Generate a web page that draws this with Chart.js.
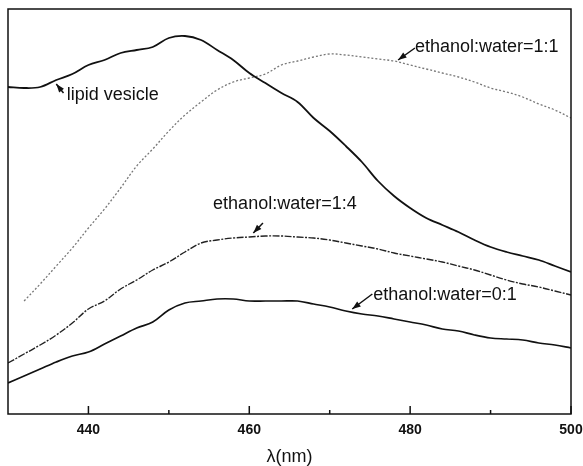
<!DOCTYPE html>
<html>
<head>
<meta charset="utf-8">
<script src="https://cdn.jsdelivr.net/npm/chart.js@4.4.1/dist/chart.umd.min.js"></script>
<style>
  body { margin: 0; background: #fff; }
  #wrap { width: 583px; height: 466px; }
</style>
</head>
<body>
<div id="wrap"><canvas id="spectra"></canvas></div>
<script>
// wavelength (nm) and emission intensity (arb. units)
const wavelengths = [430, 432, 434, 436, 438, 440, 442, 444, 446, 448, 450, 452, 454, 456, 458, 460, 462, 464,
  466, 468, 470, 472, 474, 476, 478, 480, 482, 484, 486, 488, 490, 492, 494, 496, 498, 500];
const lipidVesicle = [327, 326, 327, 334, 340, 349, 354, 361, 364, 367, 376, 378, 374, 364, 354, 341, 331, 321,
  312, 296, 283, 268, 252, 233, 218, 206, 196, 189, 182, 174, 167, 162, 158, 154, 148, 142];
const ratio1to1 = [null, 113, 130, 148, 166, 186, 205, 226, 248, 265, 283, 299, 312, 324, 332, 336, 340, 349,
  353, 357, 360, 359, 357, 355, 353, 349, 345, 341, 337, 332, 326, 322, 317, 310, 304, 296];
const ratio1to4 = [51, 60, 69, 79, 91, 105, 113, 125, 134, 144, 152, 162, 171, 174, 176, 177, 178, 178,
  177, 176, 174, 171, 168, 165, 161, 158, 155, 152, 148, 144, 139, 134, 130, 127, 123, 119];
const ratio0to1 = [31, 38, 45, 52, 58, 62, 70, 78, 86, 92, 104, 111, 113, 115, 115, 113, 113, 113,
  113, 110, 107, 103, 100, 98, 95, 92, 89, 85, 83, 79, 76, 75, 74, 71, 69, 66];
const xTicks = [440, 460, 480, 500];
const xMinorTicks = [450, 470, 490];

const toPoints = vals => wavelengths.map((w, i) => ({ x: w, y: vals[i] }));

// labels with arrows, in data coords: text anchor, arrow tail, arrow head
const notes = [
  { text: 'lipid vesicle', at: [437.3, 319], tail: [436.9, 321], head: [436.0, 330] },
  { text: 'ethanol:water=1:1', at: [480.6, 367], tail: [480.6, 366], head: [478.5, 354] },
  { text: 'ethanol:water=1:4', at: [455.5, 210], tail: [461.7, 191], head: [460.5, 181] },
  { text: 'ethanol:water=0:1', at: [475.4, 119], tail: [475.3, 120], head: [472.8, 105] }
];

const framePlugin = {
  id: 'frame',
  afterDraw(chart) {
    const { ctx, chartArea: a, scales } = chart;
    ctx.save();
    ctx.strokeStyle = '#111';
    ctx.lineWidth = 1.5;
    ctx.strokeRect(a.left, a.top, a.right - a.left, a.bottom - a.top);
    // inward tick marks
    ctx.beginPath();
    xTicks.forEach(v => {
      const px = scales.x.getPixelForValue(v);
      ctx.moveTo(px, a.bottom); ctx.lineTo(px, a.bottom - 8);
    });
    xMinorTicks.forEach(v => {
      const px = scales.x.getPixelForValue(v);
      ctx.moveTo(px, a.bottom); ctx.lineTo(px, a.bottom - 4);
    });
    ctx.stroke();

    // annotations
    ctx.font = '18px "Liberation Sans", Arial, sans-serif';
    ctx.fillStyle = '#111';
    ctx.textBaseline = 'middle';
    notes.forEach(n => {
      const tx = scales.x.getPixelForValue(n.at[0]);
      const ty = scales.y.getPixelForValue(n.at[1]);
      ctx.fillText(n.text, tx, ty);
      const x1 = scales.x.getPixelForValue(n.tail[0]), y1 = scales.y.getPixelForValue(n.tail[1]);
      const x2 = scales.x.getPixelForValue(n.head[0]), y2 = scales.y.getPixelForValue(n.head[1]);
      const ang = Math.atan2(y2 - y1, x2 - x1);
      ctx.lineWidth = 1.5;
      ctx.beginPath(); ctx.moveTo(x1, y1); ctx.lineTo(x2, y2); ctx.stroke();
      ctx.beginPath();
      ctx.moveTo(x2, y2);
      ctx.lineTo(x2 - 9 * Math.cos(ang - 0.35), y2 - 9 * Math.sin(ang - 0.35));
      ctx.lineTo(x2 - 9 * Math.cos(ang + 0.35), y2 - 9 * Math.sin(ang + 0.35));
      ctx.closePath();
      ctx.fill();
    });
    ctx.restore();
  }
};

new Chart(document.getElementById('spectra'), {
  type: 'line',
  data: {
    datasets: [
      { label: 'lipid vesicle', data: toPoints(lipidVesicle), borderColor: '#111', borderWidth: 1.8 },
      { label: 'ethanol:water=1:1', data: toPoints(ratio1to1), borderColor: '#777', borderWidth: 1.3, borderDash: [2, 2] },
      { label: 'ethanol:water=1:4', data: toPoints(ratio1to4), borderColor: '#222', borderWidth: 1.4, borderDash: [7, 1.5, 2, 1.5] },
      { label: 'ethanol:water=0:1', data: toPoints(ratio0to1), borderColor: '#111', borderWidth: 1.7 }
    ]
  },
  options: {
    responsive: true,
    maintainAspectRatio: false,
    animation: false,
    spanGaps: false,
    elements: { point: { radius: 0 }, line: { tension: 0.35 } },
    layout: { padding: { left: 8, right: 12, top: 9, bottom: 0 } },
    plugins: { legend: { display: false }, tooltip: { enabled: false } },
    scales: {
      x: {
        type: 'linear', min: 430, max: 500,
        afterBuildTicks: s => { s.ticks = xTicks.map(v => ({ value: v })); },
        afterFit: s => { s.paddingLeft = 0; s.paddingRight = 0; },
        grid: { display: false, drawTicks: false },
        border: { display: false },
        ticks: { color: '#111', padding: 9, maxRotation: 0,
          font: { family: '"Liberation Sans", Arial, sans-serif', size: 14, weight: 'bold', lineHeight: 1 } },
        title: { display: true, text: 'λ(nm)', color: '#111', padding: { top: 2, bottom: 0 },
          font: { family: '"Liberation Sans", Arial, sans-serif', size: 18, lineHeight: 1 } }
      },
      y: { display: false, min: 0, max: 405 }
    }
  },
  plugins: [framePlugin]
});
</script>
</body>
</html>
